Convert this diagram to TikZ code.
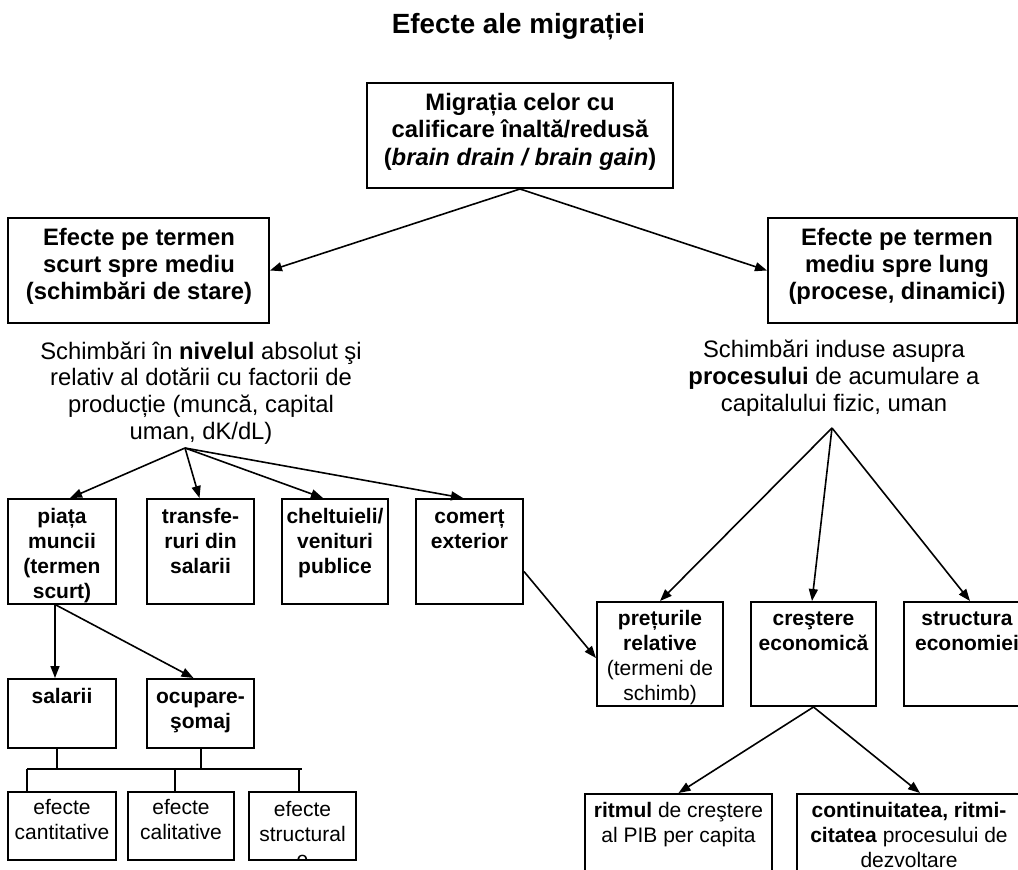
\documentclass[tikz,border=0pt]{standalone}
\usepackage{fontspec}
\setmainfont{Liberation Sans}
\usetikzlibrary{arrows.meta,fit}
\tikzset{
  box/.style={draw, line width=2pt, inner sep=0pt},
  big/.style={inner sep=0pt, align=center, anchor=base, font=\fontsize{23.8}{26.6}\selectfont},
  small/.style={inner sep=0pt, align=center, anchor=base, font=\fontsize{21}{25}\selectfont},
  arr/.style={line width=1.6pt, -{Triangle[length=12pt,width=9pt]}},
  ln/.style={line width=1.6pt}
}
\newcommand\mkbox[5]{\path (#2,#3) coordinate (#1-a) (#4,#5) coordinate (#1-b);
  \node[box, fit=(#1-a)(#1-b)] (#1) {};}
\begin{document}
\begin{tikzpicture}[x=1pt,y=-1pt]
\useasboundingbox (0,0) rectangle (1018,870);
\clip (0,0) rectangle (1018,870);
% title
\node[inner sep=0pt, anchor=base, font=\fontsize{27.8}{32}\selectfont\bfseries] (title) at (518.5,33) {Efecte ale migrației};
% boxes
\mkbox{top}{367}{83}{673}{188}
\mkbox{L}{8}{218}{269}{323}
\mkbox{R}{768}{218}{1017}{323}
\mkbox{piata}{8}{499}{116}{604}
\mkbox{transf}{147}{499}{254}{604}
\mkbox{chelt}{282}{499}{388}{604}
\mkbox{comert}{416}{499}{523}{604}
\mkbox{salarii}{8}{679}{116}{748}
\mkbox{ocupare}{147}{679}{254}{748}
\mkbox{efa}{8}{792}{116}{860}
\mkbox{efb}{128}{792}{234}{860}
\mkbox{efc}{249}{792}{356}{860}
\mkbox{pret}{597}{602}{723}{706}
\mkbox{crest}{751}{602}{876}{706}
\mkbox{struct}{904}{602}{1030}{706}
\mkbox{ritm}{585}{794}{772}{920}
\mkbox{cont}{797}{794}{1021}{920}
% texts (anchor base = last line's baseline)
\node[big, font=\fontsize{23.8}{27.5}\selectfont\bfseries] (toptxt) at (520,165) {Migrația celor cu\\calificare înaltă/redusă\\(\textit{brain drain / brain gain})};
\node[big, font=\fontsize{23.8}{26.6}\selectfont\bfseries] (Ltxt) at (139,299) {Efecte pe termen\\scurt spre mediu\\(schimbări de stare)};
\node[big, font=\fontsize{23.8}{26.6}\selectfont\bfseries] (Rtxt) at (897,299) {Efecte pe termen\\mediu spre lung\\(procese, dinamici)};
\node[big] (Ldesc) at (201,439) {Schimbări în \textbf{nivelul} absolut şi\\relativ al dotării cu factorii de\\producție (muncă, capital\\uman, dK/dL)};
\node[big] (Rdesc) at (834,411) {Schimbări induse asupra\\\textbf{procesului} de acumulare a\\capitalului fizic, uman};
\node[small, font=\fontsize{21}{25}\selectfont\bfseries] (piatatxt) at (62,598) {piața\\muncii\\(termen\\scurt)};
\node[small, font=\fontsize{21}{25}\selectfont\bfseries] (transftxt) at (200.5,573) {transfe-\\ruri din\\salarii};
\node[small, font=\fontsize{21}{25}\selectfont\bfseries] (chelttxt) at (335,573) {cheltuieli/\\venituri\\publice};
\node[small, font=\fontsize{21}{25}\selectfont\bfseries] (comerttxt) at (469.5,548) {comerț\\exterior};
\node[small, font=\fontsize{21}{25}\selectfont\bfseries] (salariitxt) at (62,703) {salarii};
\node[small, font=\fontsize{21}{25}\selectfont\bfseries] (ocuparetxt) at (200.5,728) {ocupare-\\şomaj};
\node[small] (efatxt) at (62,839) {efecte\\cantitative};
\node[small] (efbtxt) at (181,839) {efecte\\calitative};
\begin{scope}
\clip (efc-a) rectangle (efc-b);
\node[small] (efctxt) at (302.5,866) {efecte\\structural\\e};
\end{scope}
\node[small] (prettxt) at (660,700) {\textbf{prețurile}\\\textbf{relative}\\(termeni de\\schimb)};
\node[small, font=\fontsize{21}{25}\selectfont\bfseries] (cresttxt) at (813.5,650) {creştere\\economică};
\node[small, font=\fontsize{21}{25}\selectfont\bfseries] (structtxt) at (967,650) {structura\\economiei};
\node[small] (ritmtxt) at (678.5,842) {\textbf{ritmul} de creştere\\al PIB per capita};
\node[small] (conttxt) at (909,867) {\textbf{continuitatea, ritmi-}\\\textbf{citatea} procesului de\\dezvoltare};
% connectors
\draw[arr] (top.south) -- (L.east);
\draw[arr] (top.south) -- (R.west);
\coordinate (lfan) at (185,448);
\coordinate (rfan) at (832,428);
\draw[arr] (lfan) -- ([xshift=8pt]piata.north);
\draw[arr] (lfan) -- ([xshift=-1pt]transf.north);
\draw[arr] (lfan) -- ([xshift=-12pt]chelt.north);
\draw[arr] (lfan) -- ([xshift=-6.5pt]comert.north);
\draw[arr] (rfan) -- (pret.north);
\draw[arr] (rfan) -- ([xshift=-1.5pt]crest.north);
\draw[arr] (rfan) -- ([xshift=3pt]struct.north);
\draw[arr] ([yshift=-20pt]comert.east) -- ([yshift=-4pt]pret.west);
\draw[arr] ([xshift=-7pt]piata.south) -- ([xshift=-7pt]salarii.north);
\draw[arr] ([xshift=-6pt]piata.south) -- ([xshift=-7pt]ocupare.north);
\draw[arr] (crest.south) -- (ritm.north);
\draw[arr] (crest.south) -- ([xshift=11pt]cont.north);
\coordinate (busL) at (27,769);
\coordinate (busR) at (302,769);
\draw[ln] (busL) -- (busR);
\draw[ln] ([xshift=-5pt]salarii.south) -- ([xshift=-5pt]salarii.south |- busL);
\draw[ln] ([xshift=0.5pt]ocupare.south) -- ([xshift=0.5pt]ocupare.south |- busL);
\draw[ln] (busL) -- (busL |- efa.north);
\draw[ln] ([xshift=-6pt]efb.north |- busL) -- ([xshift=-6pt]efb.north);
\draw[ln] ([xshift=-3.5pt]efc.north |- busL) -- ([xshift=-3.5pt]efc.north);
\end{tikzpicture}
\end{document}
